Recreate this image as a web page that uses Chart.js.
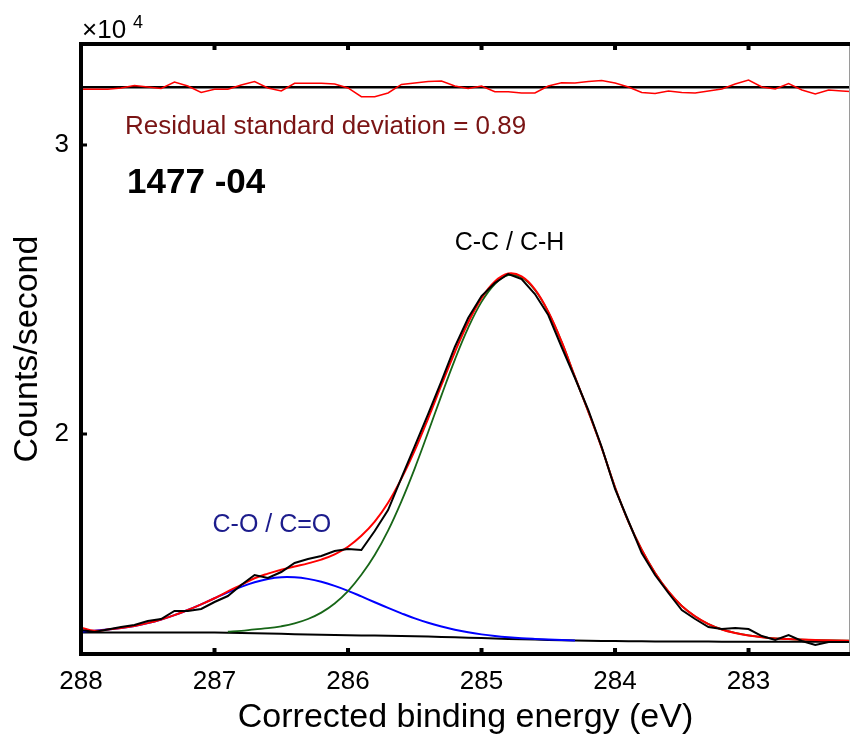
<!DOCTYPE html>
<html lang="en">
<head>
<meta charset="UTF-8">
<title>C 1s fit 1477-04</title>
<script src="https://cdn.jsdelivr.net/npm/chart.js@4"></script>
<style>
  body { margin: 0; background: #fff; }
  #wrap { width: 851px; height: 735px; }
</style>
</head>
<body>
<div id="wrap"><canvas id="xps" width="851" height="735"></canvas></div>
<script>
// binding energy grid (eV), every 0.1 eV
const energy = [288.0, 287.9, 287.8, 287.7, 287.6, 287.5, 287.4, 287.3, 287.2, 287.1,
  287.0, 286.9, 286.8, 286.7, 286.6, 286.5, 286.4, 286.3, 286.2, 286.1,
  286.0, 285.9, 285.8, 285.7, 285.6, 285.5, 285.4, 285.3, 285.2, 285.1,
  285.0, 284.9, 284.8, 284.7, 284.6, 284.5, 284.4, 284.3, 284.2, 284.1,
  284.0, 283.9, 283.8, 283.7, 283.6, 283.5, 283.4, 283.3, 283.2, 283.1,
  283.0, 282.9, 282.8, 282.7, 282.6, 282.5, 282.4, 282.3, 282.2];

// measured counts/second
const rawCounts = [13218, 13149, 13236, 13322, 13391, 13530, 13599, 13876, 13876, 13945,
  14187, 14394, 14775, 15121, 15017, 15224, 15536, 15675, 15778, 15951,
  16021, 15986, 16643, 17370, 18478, 19584, 20691, 21833, 23010, 24013,
  24774, 25224, 25536, 25362, 24844, 24117, 23010, 21937, 20830, 19550,
  18097, 16990, 15882, 15121, 14498, 13910, 13599, 13322, 13253, 13287,
  13253, 13010, 12872, 13045, 12838, 12699, 12803, 12803, 12803];

// fitted envelope
const fitCounts = [13300, 13196, 13233, 13286, 13359, 13456, 13580, 13732, 13909, 14106,
  14317, 14558, 14782, 15008, 15169, 15305, 15416, 15523, 15654, 15834,
  16100, 16477, 16969, 17622, 18456, 19432, 20536, 21698, 22829, 23856,
  24700, 25277, 25551, 25451, 25005, 24232, 23194, 21973, 20776, 19522,
  18157, 16966, 15996, 15191, 14552, 14052, 13690, 13423, 13238, 13116,
  13030, 12970, 12928, 12903, 12886, 12871, 12860, 12854, 12846];

// C-C / C-H component (on background)
const ccPeak = [null, null, null, null, null, null, null, null, null, null,
  null, 13160, 13187, 13243, 13280, 13347, 13447, 13599, 13820, 14135,
  14564, 15128, 15813, 16657, 17671, 18813, 20059, 21338, 22567, 23670,
  24571, 25190, 25494, 25414, 24982, 24218, 23186, 21969, 20774, 19522,
  18157, 16966, 15996, 15191, 14552, 14052, 13690, 13423, 13238, 13116,
  13030, 12970, 12928, 12903, 12886, 12871, 12860, 12854, 12846];

// C-O / C=O component (on background)
const coPeak = [13170, 13196, 13233, 13286, 13359, 13456, 13580, 13732, 13909, 14106,
  14317, 14523, 14713, 14873, 14986, 15045, 15042, 14987, 14886, 14744,
  14574, 14380, 14180, 13982, 13795, 13619, 13467, 13339, 13227, 13137,
  13067, 13011, 12967, 12933, 12909, 12890, 12873, 12859, null, null,
  null, null, null, null, null, null, null, null, null, null,
  null, null, null, null, null, null, null, null, null];

// background
const background = [13130, 13130, 13130, 13130, 13130, 13130, 13130, 13130, 13130, 13130,
  13130, 13125, 13118, 13108, 13097, 13087, 13073, 13063, 13052, 13045,
  13038, 13031, 13024, 13017, 13010, 13000, 12990, 12979, 12965, 12951,
  12938, 12924, 12910, 12896, 12886, 12876, 12865, 12855, 12848, 12841,
  12834, 12831, 12827, 12824, 12822, 12820, 12818, 12817, 12816, 12815,
  12815, 12814, 12814, 12813, 12813, 12812, 12812, 12812, 12811];

// residual (data - fit), drawn around an offset line near the top
const residual = [-73, -73, -73, -28, 59, 7, -45, 180, 42, -183,
  -73, -73, 76, 197, -28, -131, 135, 135, 135, 111,
  -28, -329, -329, -201, 93, 145, 197, 215, 42, -45,
  42, -156, -156, -201, -201, 42, 156, 145, 197, 232,
  145, 7, -183, -218, -131, -183, -201, -131, -62, 111,
  249, 7, -62, 128, -97, -235, -97, -131, -156];
const RESID_ZERO = 32000;

const xTicks = [288, 287, 286, 285, 284, 283];
const yTicks = [20000, 30000];

const FONT = "'Liberation Sans', Arial, sans-serif";

function pts(values) {
  return energy.map((e, i) => ({ x: e, y: values[i] }));
}

const labels = [
  { text: 'Residual standard deviation = 0.89', x: 287.67, y: 30622, color: '#7a1414', font: '26px ' + FONT, align: 'left' },
  { text: '1477 -04', x: 287.655, y: 28684, color: '#000', font: 'bold 35px ' + FONT, align: 'left' },
  { text: 'C-C / C-H', x: 284.79, y: 26608, color: '#000', font: '25px ' + FONT, align: 'center' },
  { text: 'C-O / C=O', x: 286.57, y: 16851, color: '#1c1c8c', font: '25px ' + FONT, align: 'center' }
];

const framePlugin = {
  id: 'frame',
  afterDraw(chart) {
    const { ctx, chartArea: a, scales: { x, y } } = chart;
    ctx.save();
    // right edge
    ctx.strokeStyle = '#9a9a9a';
    ctx.lineWidth = 1;
    ctx.beginPath();
    ctx.moveTo(a.right - 0.5, a.top);
    ctx.lineTo(a.right - 0.5, a.bottom);
    ctx.stroke();
    // thick box
    ctx.strokeStyle = '#000';
    ctx.lineWidth = 4;
    ctx.beginPath();
    ctx.moveTo(a.left, a.top - 2);
    ctx.lineTo(a.left, a.bottom + 2);
    ctx.moveTo(a.left - 2, a.top);
    ctx.lineTo(a.right, a.top);
    ctx.moveTo(a.left - 2, a.bottom);
    ctx.lineTo(a.right, a.bottom);
    ctx.stroke();
    // inward ticks
    ctx.fillStyle = '#000';
    xTicks.forEach(v => {
      const px = x.getPixelForValue(v);
      ctx.fillRect(px - 2, a.top, 4, 6);
      ctx.fillRect(px - 2, a.bottom - 6, 4, 6);
    });
    yTicks.forEach(v => {
      const py = y.getPixelForValue(v);
      ctx.fillRect(a.left, py - 1.5, 6, 3);
    });
    // exponent
    ctx.textBaseline = 'alphabetic';
    ctx.textAlign = 'left';
    ctx.font = '26px ' + FONT;
    ctx.fillText('\u00d710', a.left + 1, a.top - 6);
    ctx.font = '18px ' + FONT;
    ctx.fillText('4', a.left + 52, a.top - 16);
    // labels
    ctx.textBaseline = 'middle';
    labels.forEach(l => {
      ctx.font = l.font;
      ctx.fillStyle = l.color;
      ctx.textAlign = l.align;
      ctx.fillText(l.text, x.getPixelForValue(l.x), y.getPixelForValue(l.y));
    });
    ctx.restore();
  }
};

const line = (data, color, width, order, tension) => ({
  data: pts(data), borderColor: color, borderWidth: width, order: order,
  tension: tension, pointRadius: 0, fill: false, spanGaps: false
});

new Chart(document.getElementById('xps'), {
  type: 'line',
  data: {
    datasets: [
      line(residual.map(r => RESID_ZERO + r), '#ff0000', 1.5, 1, 0),
      { data: [{ x: 288, y: RESID_ZERO }, { x: 282.2, y: RESID_ZERO }], borderColor: '#000', borderWidth: 2.5, order: 2, pointRadius: 0 },
      line(rawCounts, '#000', 2, 3, 0),
      line(fitCounts, '#ff0000', 2, 4, 0.4),
      line(ccPeak, '#176617', 1.8, 5, 0.4),
      line(coPeak, '#0000ff', 2, 6, 0.4),
      line(background, '#000', 2, 7, 0)
    ]
  },
  options: {
    responsive: false,
    animation: false,
    layout: { padding: { left: 0, top: 44, right: 1, bottom: 0 } },
    plugins: { legend: { display: false }, tooltip: { enabled: false } },
    scales: {
      x: {
        type: 'linear', reverse: true, min: 282.24, max: 288,
        afterFit(s) { s.height = 81; },
        afterBuildTicks(s) { s.ticks = xTicks.map(v => ({ value: v })); },
        grid: { display: false, drawTicks: false },
        border: { display: false },
        ticks: { font: { family: FONT, size: 26 }, color: '#000', padding: 12, maxRotation: 0, callback: v => v },
        title: { display: true, text: 'Corrected binding energy (eV)', color: '#000', font: { family: FONT, size: 34 }, padding: { top: 0, bottom: -3 } }
      },
      y: {
        min: 12388, max: 33494,
        afterFit(s) { s.width = 81; },
        afterBuildTicks(s) { s.ticks = yTicks.map(v => ({ value: v })); },
        grid: { display: false, drawTicks: false },
        border: { display: false },
        ticks: { font: { family: FONT, size: 26 }, color: '#000', padding: 12, callback: v => v / 10000 },
        title: { display: true, text: 'Counts/second', color: '#000', font: { family: FONT, size: 34 }, padding: { top: 7, bottom: 0 } }
      }
    }
  },
  plugins: [framePlugin]
});
</script>
</body>
</html>
